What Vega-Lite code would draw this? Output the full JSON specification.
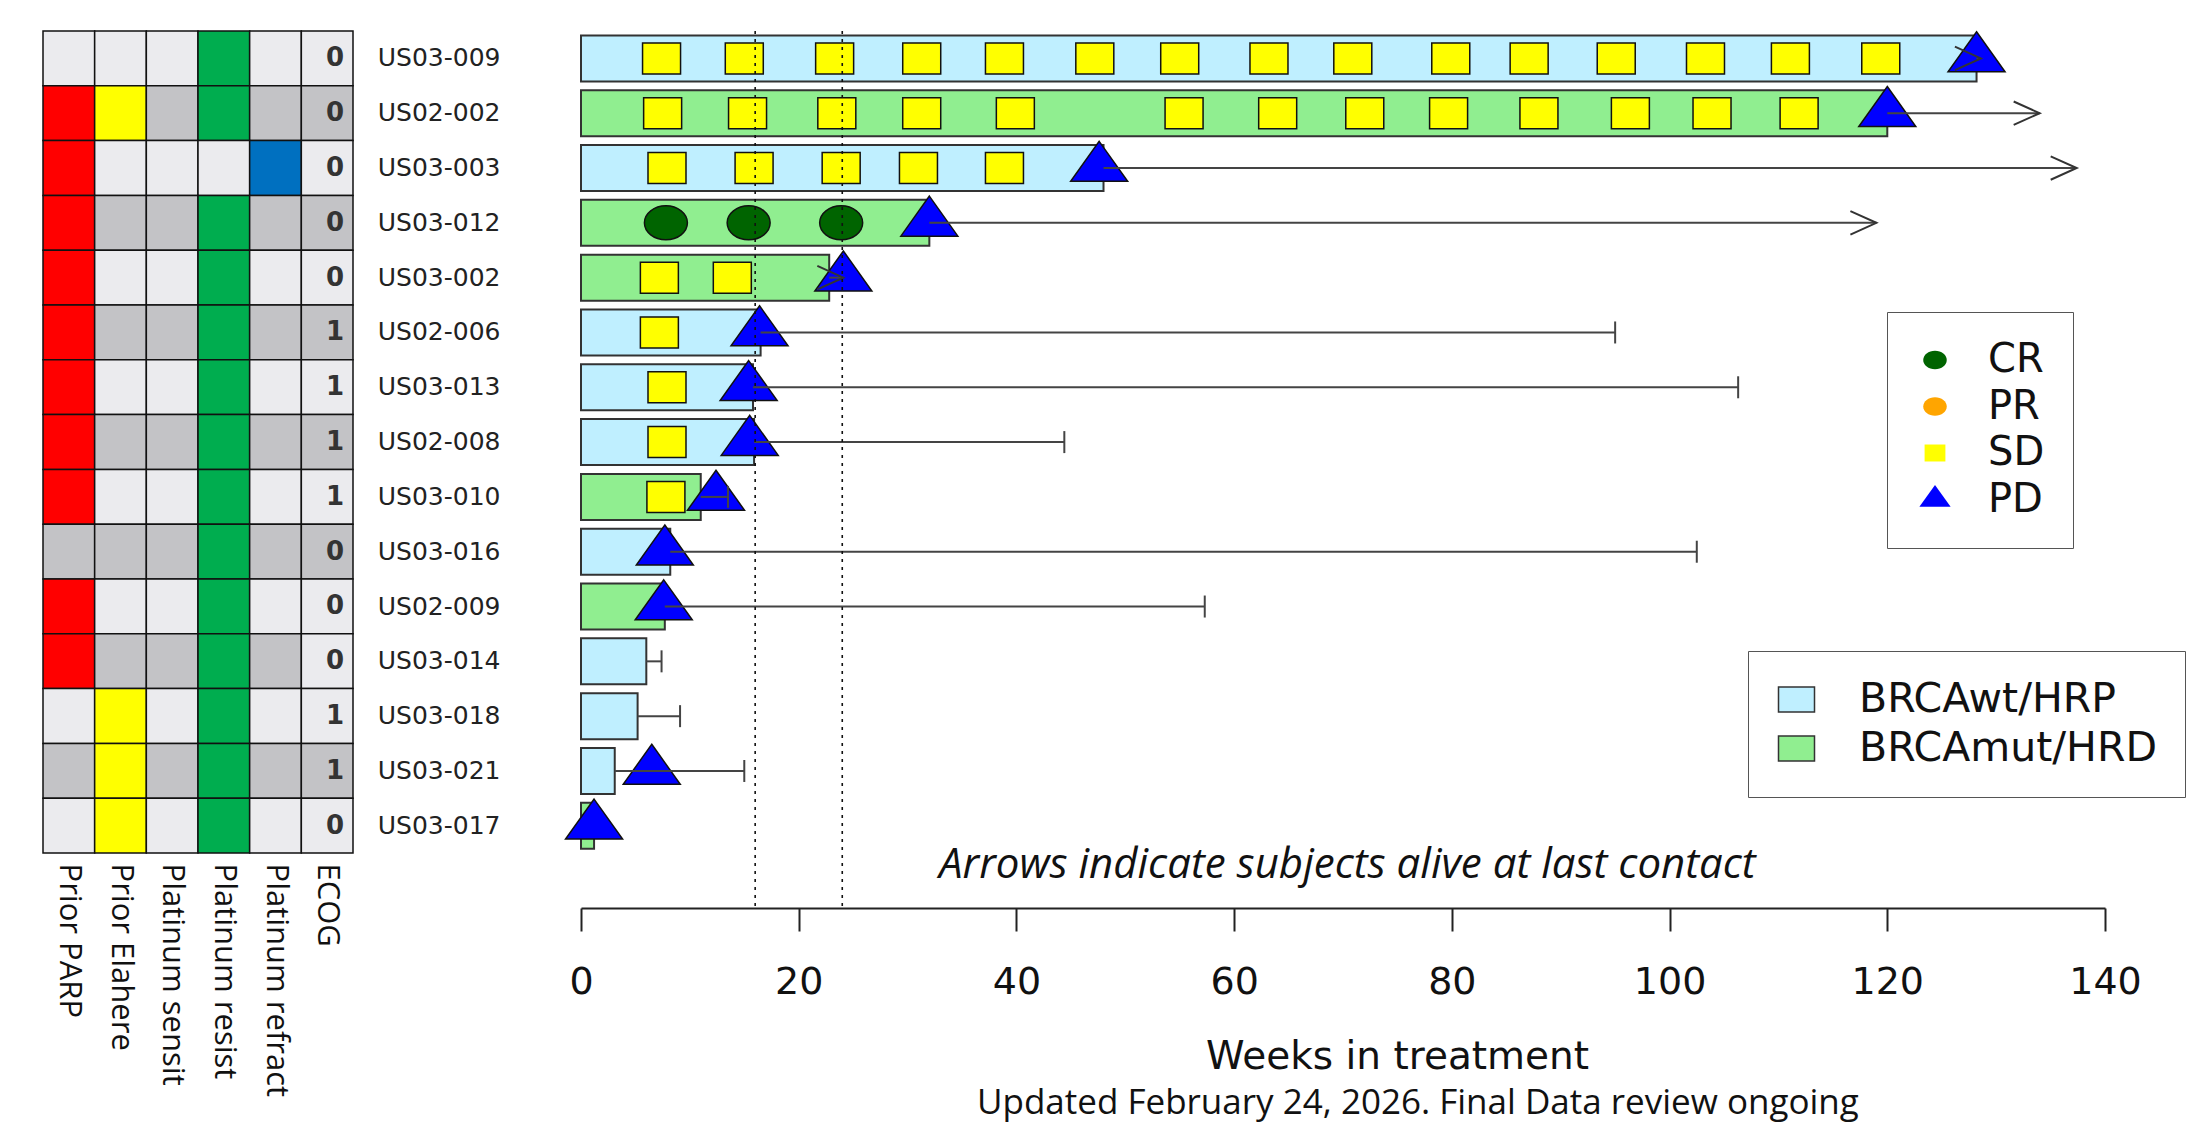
{
  "$schema": "https://vega.github.io/schema/vega-lite/v6.json",
  "background": "white",
  "padding": {"left": 42, "top": 28, "right": 0, "bottom": 6},
  "spacing": 23,
  "config": {
    "view": {"stroke": null},
    "font": "DejaVu Sans",
    "axis": {"grid": false}
  },
  "datasets": {
    "subjects": [
      {"id": "US03-009", "grp": "BRCAwt/HRP", "end": 128.2, "fu": 128.6, "fu_type": "arrow"},
      {"id": "US02-002", "grp": "BRCAmut/HRD", "end": 120, "fu": 134, "fu_type": "arrow"},
      {"id": "US03-003", "grp": "BRCAwt/HRP", "end": 48, "fu": 137.4, "fu_type": "arrow"},
      {"id": "US03-012", "grp": "BRCAmut/HRD", "end": 32, "fu": 119, "fu_type": "arrow"},
      {"id": "US03-002", "grp": "BRCAmut/HRD", "end": 22.8, "fu": 24.1, "fu_type": "arrow"},
      {"id": "US02-006", "grp": "BRCAwt/HRP", "end": 16.5, "fu": 95, "fu_type": "cap"},
      {"id": "US03-013", "grp": "BRCAwt/HRP", "end": 15.8, "fu": 106.3, "fu_type": "cap"},
      {"id": "US02-008", "grp": "BRCAwt/HRP", "end": 15.9, "fu": 44.4, "fu_type": "cap"},
      {"id": "US03-010", "grp": "BRCAmut/HRD", "end": 11, "fu": 13.5, "fu_type": "cap"},
      {"id": "US03-016", "grp": "BRCAwt/HRP", "end": 8.2, "fu": 102.5, "fu_type": "cap"},
      {"id": "US02-009", "grp": "BRCAmut/HRD", "end": 7.7, "fu": 57.3, "fu_type": "cap"},
      {"id": "US03-014", "grp": "BRCAwt/HRP", "end": 6, "fu": 7.4, "fu_type": "cap"},
      {"id": "US03-018", "grp": "BRCAwt/HRP", "end": 5.2, "fu": 9.1, "fu_type": "cap"},
      {"id": "US03-021", "grp": "BRCAwt/HRP", "end": 3.1, "fu": 15, "fu_type": "cap"},
      {"id": "US03-017", "grp": "BRCAmut/HRD", "end": 1.2, "fu": null, "fu_type": "none"}
    ],
    "resp": [
      {"id": "US03-009", "wk": 7.4, "resp": "SD"}, {"id": "US03-009", "wk": 15.0, "resp": "SD"}, {"id": "US03-009", "wk": 23.3, "resp": "SD"},
      {"id": "US03-009", "wk": 31.3, "resp": "SD"}, {"id": "US03-009", "wk": 38.9, "resp": "SD"}, {"id": "US03-009", "wk": 47.2, "resp": "SD"},
      {"id": "US03-009", "wk": 55.0, "resp": "SD"}, {"id": "US03-009", "wk": 63.2, "resp": "SD"}, {"id": "US03-009", "wk": 70.9, "resp": "SD"},
      {"id": "US03-009", "wk": 79.9, "resp": "SD"}, {"id": "US03-009", "wk": 87.1, "resp": "SD"}, {"id": "US03-009", "wk": 95.1, "resp": "SD"},
      {"id": "US03-009", "wk": 103.3, "resp": "SD"}, {"id": "US03-009", "wk": 111.1, "resp": "SD"}, {"id": "US03-009", "wk": 119.4, "resp": "SD"},
      {"id": "US03-009", "wk": 128.2, "resp": "PD"},
      {"id": "US02-002", "wk": 7.5, "resp": "SD"}, {"id": "US02-002", "wk": 15.3, "resp": "SD"}, {"id": "US02-002", "wk": 23.5, "resp": "SD"},
      {"id": "US02-002", "wk": 31.3, "resp": "SD"}, {"id": "US02-002", "wk": 39.9, "resp": "SD"}, {"id": "US02-002", "wk": 55.4, "resp": "SD"},
      {"id": "US02-002", "wk": 64.0, "resp": "SD"}, {"id": "US02-002", "wk": 72.0, "resp": "SD"}, {"id": "US02-002", "wk": 79.7, "resp": "SD"},
      {"id": "US02-002", "wk": 88.0, "resp": "SD"}, {"id": "US02-002", "wk": 96.4, "resp": "SD"}, {"id": "US02-002", "wk": 103.9, "resp": "SD"},
      {"id": "US02-002", "wk": 111.9, "resp": "SD"}, {"id": "US02-002", "wk": 120, "resp": "PD"},
      {"id": "US03-003", "wk": 7.9, "resp": "SD"}, {"id": "US03-003", "wk": 15.9, "resp": "SD"}, {"id": "US03-003", "wk": 23.9, "resp": "SD"},
      {"id": "US03-003", "wk": 31.0, "resp": "SD"}, {"id": "US03-003", "wk": 38.9, "resp": "SD"}, {"id": "US03-003", "wk": 47.6, "resp": "PD"},
      {"id": "US03-012", "wk": 7.8, "resp": "CR"}, {"id": "US03-012", "wk": 15.4, "resp": "CR"}, {"id": "US03-012", "wk": 23.9, "resp": "CR"},
      {"id": "US03-012", "wk": 32, "resp": "PD"},
      {"id": "US03-002", "wk": 7.2, "resp": "SD"}, {"id": "US03-002", "wk": 13.9, "resp": "SD"}, {"id": "US03-002", "wk": 24.1, "resp": "PD"},
      {"id": "US02-006", "wk": 7.2, "resp": "SD"}, {"id": "US02-006", "wk": 16.4, "resp": "PD"},
      {"id": "US03-013", "wk": 7.9, "resp": "SD"}, {"id": "US03-013", "wk": 15.4, "resp": "PD"},
      {"id": "US02-008", "wk": 7.9, "resp": "SD"}, {"id": "US02-008", "wk": 15.5, "resp": "PD"},
      {"id": "US03-010", "wk": 7.8, "resp": "SD"}, {"id": "US03-010", "wk": 12.4, "resp": "PD"},
      {"id": "US03-016", "wk": 7.7, "resp": "PD"},
      {"id": "US02-009", "wk": 7.6, "resp": "PD"},
      {"id": "US03-021", "wk": 6.5, "resp": "PD"},
      {"id": "US03-017", "wk": 1.2, "resp": "PD"}
    ],
    "heat": [
      {"id": "US03-009", "c": "Prior PARP", "f": "a"}, {"id": "US03-009", "c": "Prior Elahere", "f": "a"}, {"id": "US03-009", "c": "Platinum sensit", "f": "a"}, {"id": "US03-009", "c": "Platinum resist", "f": "resist"}, {"id": "US03-009", "c": "Platinum refract", "f": "a"}, {"id": "US03-009", "c": "ECOG", "f": "a", "e": 0},
      {"id": "US02-002", "c": "Prior PARP", "f": "PARP"}, {"id": "US02-002", "c": "Prior Elahere", "f": "Elahere"}, {"id": "US02-002", "c": "Platinum sensit", "f": "b"}, {"id": "US02-002", "c": "Platinum resist", "f": "resist"}, {"id": "US02-002", "c": "Platinum refract", "f": "b"}, {"id": "US02-002", "c": "ECOG", "f": "b", "e": 0},
      {"id": "US03-003", "c": "Prior PARP", "f": "PARP"}, {"id": "US03-003", "c": "Prior Elahere", "f": "a"}, {"id": "US03-003", "c": "Platinum sensit", "f": "a"}, {"id": "US03-003", "c": "Platinum resist", "f": "a"}, {"id": "US03-003", "c": "Platinum refract", "f": "refract"}, {"id": "US03-003", "c": "ECOG", "f": "a", "e": 0},
      {"id": "US03-012", "c": "Prior PARP", "f": "PARP"}, {"id": "US03-012", "c": "Prior Elahere", "f": "b"}, {"id": "US03-012", "c": "Platinum sensit", "f": "b"}, {"id": "US03-012", "c": "Platinum resist", "f": "resist"}, {"id": "US03-012", "c": "Platinum refract", "f": "b"}, {"id": "US03-012", "c": "ECOG", "f": "b", "e": 0},
      {"id": "US03-002", "c": "Prior PARP", "f": "PARP"}, {"id": "US03-002", "c": "Prior Elahere", "f": "a"}, {"id": "US03-002", "c": "Platinum sensit", "f": "a"}, {"id": "US03-002", "c": "Platinum resist", "f": "resist"}, {"id": "US03-002", "c": "Platinum refract", "f": "a"}, {"id": "US03-002", "c": "ECOG", "f": "a", "e": 0},
      {"id": "US02-006", "c": "Prior PARP", "f": "PARP"}, {"id": "US02-006", "c": "Prior Elahere", "f": "b"}, {"id": "US02-006", "c": "Platinum sensit", "f": "b"}, {"id": "US02-006", "c": "Platinum resist", "f": "resist"}, {"id": "US02-006", "c": "Platinum refract", "f": "b"}, {"id": "US02-006", "c": "ECOG", "f": "b", "e": 1},
      {"id": "US03-013", "c": "Prior PARP", "f": "PARP"}, {"id": "US03-013", "c": "Prior Elahere", "f": "a"}, {"id": "US03-013", "c": "Platinum sensit", "f": "a"}, {"id": "US03-013", "c": "Platinum resist", "f": "resist"}, {"id": "US03-013", "c": "Platinum refract", "f": "a"}, {"id": "US03-013", "c": "ECOG", "f": "a", "e": 1},
      {"id": "US02-008", "c": "Prior PARP", "f": "PARP"}, {"id": "US02-008", "c": "Prior Elahere", "f": "b"}, {"id": "US02-008", "c": "Platinum sensit", "f": "b"}, {"id": "US02-008", "c": "Platinum resist", "f": "resist"}, {"id": "US02-008", "c": "Platinum refract", "f": "b"}, {"id": "US02-008", "c": "ECOG", "f": "b", "e": 1},
      {"id": "US03-010", "c": "Prior PARP", "f": "PARP"}, {"id": "US03-010", "c": "Prior Elahere", "f": "a"}, {"id": "US03-010", "c": "Platinum sensit", "f": "a"}, {"id": "US03-010", "c": "Platinum resist", "f": "resist"}, {"id": "US03-010", "c": "Platinum refract", "f": "a"}, {"id": "US03-010", "c": "ECOG", "f": "a", "e": 1},
      {"id": "US03-016", "c": "Prior PARP", "f": "b"}, {"id": "US03-016", "c": "Prior Elahere", "f": "b"}, {"id": "US03-016", "c": "Platinum sensit", "f": "b"}, {"id": "US03-016", "c": "Platinum resist", "f": "resist"}, {"id": "US03-016", "c": "Platinum refract", "f": "b"}, {"id": "US03-016", "c": "ECOG", "f": "b", "e": 0},
      {"id": "US02-009", "c": "Prior PARP", "f": "PARP"}, {"id": "US02-009", "c": "Prior Elahere", "f": "a"}, {"id": "US02-009", "c": "Platinum sensit", "f": "a"}, {"id": "US02-009", "c": "Platinum resist", "f": "resist"}, {"id": "US02-009", "c": "Platinum refract", "f": "a"}, {"id": "US02-009", "c": "ECOG", "f": "a", "e": 0},
      {"id": "US03-014", "c": "Prior PARP", "f": "PARP"}, {"id": "US03-014", "c": "Prior Elahere", "f": "b"}, {"id": "US03-014", "c": "Platinum sensit", "f": "b"}, {"id": "US03-014", "c": "Platinum resist", "f": "resist"}, {"id": "US03-014", "c": "Platinum refract", "f": "b"}, {"id": "US03-014", "c": "ECOG", "f": "a", "e": 0},
      {"id": "US03-018", "c": "Prior PARP", "f": "a"}, {"id": "US03-018", "c": "Prior Elahere", "f": "Elahere"}, {"id": "US03-018", "c": "Platinum sensit", "f": "a"}, {"id": "US03-018", "c": "Platinum resist", "f": "resist"}, {"id": "US03-018", "c": "Platinum refract", "f": "a"}, {"id": "US03-018", "c": "ECOG", "f": "a", "e": 1},
      {"id": "US03-021", "c": "Prior PARP", "f": "b"}, {"id": "US03-021", "c": "Prior Elahere", "f": "Elahere"}, {"id": "US03-021", "c": "Platinum sensit", "f": "b"}, {"id": "US03-021", "c": "Platinum resist", "f": "resist"}, {"id": "US03-021", "c": "Platinum refract", "f": "b"}, {"id": "US03-021", "c": "ECOG", "f": "b", "e": 1},
      {"id": "US03-017", "c": "Prior PARP", "f": "a"}, {"id": "US03-017", "c": "Prior Elahere", "f": "Elahere"}, {"id": "US03-017", "c": "Platinum sensit", "f": "a"}, {"id": "US03-017", "c": "Platinum resist", "f": "resist"}, {"id": "US03-017", "c": "Platinum refract", "f": "a"}, {"id": "US03-017", "c": "ECOG", "f": "a", "e": 0}
    ],
    "cutoffs": [{"wk": 16}, {"wk": 24}]
  },
  "resolve": {
    "scale": {"x": "independent", "y": "independent", "color": "independent", "fill": "independent", "shape": "independent"},
    "legend": {"color": "independent", "fill": "independent", "shape": "independent"}
  },
  "hconcat": [
    {
      "width": 310,
      "height": 822,
      "data": {"name": "heat"},
      "encoding": {
        "x": {
          "field": "c", "type": "nominal",
          "scale": {"domain": ["Prior PARP", "Prior Elahere", "Platinum sensit", "Platinum resist", "Platinum refract", "ECOG"], "paddingInner": 0, "paddingOuter": 0},
          "axis": {"title": null, "orient": "bottom", "labelAngle": 90, "labelAlign": "left", "labelBaseline": "middle", "labelPadding": 10, "ticks": false, "tickSize": 0, "domain": false, "labelFont": "Open Sans", "labelFontSize": 31, "labelColor": "#111", "labelLimit": 400}
        },
        "y": {
          "field": "id", "type": "nominal",
          "scale": {"domain": ["US03-009", "US02-002", "US03-003", "US03-012", "US03-002", "US02-006", "US03-013", "US02-008", "US03-010", "US03-016", "US02-009", "US03-014", "US03-018", "US03-021", "US03-017"], "paddingInner": 0, "paddingOuter": 0},
          "axis": null
        }
      },
      "layer": [
        {
          "mark": {"type": "rect", "stroke": "#111", "strokeWidth": 1.5},
          "encoding": {
            "color": {
              "field": "f", "type": "nominal",
              "scale": {"domain": ["a", "b", "PARP", "Elahere", "resist", "refract"], "range": ["#EBEBEE", "#C3C3C6", "#FF0000", "#FFFF00", "#00AD4F", "#0070C0"]},
              "legend": null
            }
          }
        },
        {
          "transform": [{"filter": "isValid(datum.e)"}],
          "mark": {"type": "text", "align": "right", "baseline": "middle", "dx": 17, "font": "DejaVu Sans", "fontSize": 26, "fontWeight": "bold", "color": "#333"},
          "encoding": {"text": {"field": "e", "type": "nominal"}}
        }
      ]
    },
    {
      "width": 1524,
      "height": 877,
      "title": {"text": "Updated February 24, 2026. Final Data review ongoing", "orient": "bottom", "anchor": "start", "frame": "group", "dx": 396, "offset": 38, "font": "Open Sans", "fontSize": 35, "fontWeight": "normal", "color": "#111", "baseline": "alphabetic"},
      "layer": [
        {
          "data": {"name": "subjects"},
          "mark": {"type": "bar", "stroke": "#333", "strokeWidth": 2, "height": {"band": 0.84}},
          "encoding": {
            "y": {
              "field": "id", "type": "nominal",
              "scale": {"domain": ["US03-009", "US02-002", "US03-003", "US03-012", "US03-002", "US02-006", "US03-013", "US02-008", "US03-010", "US03-016", "US02-009", "US03-014", "US03-018", "US03-021", "US03-017", "note"], "paddingInner": 0, "paddingOuter": 0},
              "axis": {"title": null, "orient": "left", "ticks": false, "tickSize": 0, "domain": false, "labelAlign": "left", "labelBaseline": "middle", "labelPadding": 203.7, "labelFont": "DejaVu Sans", "labelFontSize": 25, "labelColor": "#222", "labelLimit": 300, "maxExtent": 300, "minExtent": 0, "labelExpr": "datum.value == 'note' ? '' : datum.value"}
            },
            "x": {
              "field": "end", "type": "quantitative", "stack": null,
              "scale": {"domain": [0, 140], "nice": false, "zero": true},
              "axis": {"title": "Weeks in treatment", "values": [0, 20, 40, 60, 80, 100, 120, 140], "tickSize": 23, "tickColor": "#222", "tickWidth": 2, "domainColor": "#222", "domainWidth": 2, "labelFont": "DejaVu Sans", "labelFontSize": 38, "labelColor": "#111", "labelPadding": 62, "labelBaseline": "alphabetic", "labelFlush": false, "labelOverlap": false, "grid": false, "titleFont": "DejaVu Sans", "titleFontSize": 39, "titleFontWeight": "normal", "titleColor": "#111", "titleBaseline": "alphabetic", "titleX": 816, "titleY": 160, "titleAlign": "center", "maxExtent": 400}
            },
            "color": {
              "field": "grp", "type": "nominal",
              "scale": {"domain": ["BRCAwt/HRP", "BRCAmut/HRD"], "range": ["#BFEFFF", "#90EE90"]},
              "legend": {"title": null, "orient": "none", "legendX": 1167, "legendY": 620, "symbolType": "M-1,-0.7H1V0.7H-1Z", "symbolSize": 1296, "symbolStrokeColor": "#333", "symbolStrokeWidth": 1.5, "labelFont": "DejaVu Sans", "labelFontSize": 41, "labelColor": "#111", "labelOffset": 42, "labelLimit": 500, "rowPadding": 7, "padding": 28, "strokeColor": "#555", "fillColor": "white"}
            }
          }
        },
        {
          "data": {"name": "resp"},
          "mark": {"type": "point", "filled": true, "opacity": 1, "size": 1600, "stroke": "#111", "strokeWidth": 1.5},
          "encoding": {
            "x": {"field": "wk", "type": "quantitative"},
            "y": {"field": "id", "type": "nominal"},
            "fill": {
              "field": "resp", "type": "nominal",
              "scale": {"domain": ["CR", "PR", "SD", "PD"], "range": ["#006400", "#FFA500", "#FFFF00", "#0000FF"]},
              "legend": {"title": null, "orient": "none", "legendX": 1306, "legendY": 281, "symbolSize": 480, "symbolStrokeColor": "#111", "symbolStrokeWidth": 1.2, "labelFont": "DejaVu Sans", "labelFontSize": 40, "labelColor": "#111", "labelOffset": 33, "rowPadding": 6.5, "padding": 28, "strokeColor": "#555", "fillColor": "white"}
            },
            "shape": {
              "field": "resp", "type": "nominal",
              "scale": {"domain": ["CR", "PR", "SD", "PD"], "range": ["M-1.075,0A1.075,0.85,0,1,0,1.075,0A1.075,0.85,0,1,0,-1.075,0Z", "M-1.075,0A1.075,0.85,0,1,0,1.075,0A1.075,0.85,0,1,0,-1.075,0Z", "M-0.95,-0.775H0.95V0.775H-0.95Z", "M0,-1.335L1.425,0.665L-1.425,0.665Z"]},
              "legend": {"title": null, "orient": "none", "legendX": 1306, "legendY": 281, "symbolSize": 480, "symbolStrokeColor": "#111", "symbolStrokeWidth": 1.2, "labelFont": "DejaVu Sans", "labelFontSize": 40, "labelColor": "#111", "labelOffset": 33, "rowPadding": 6.5, "padding": 28, "strokeColor": "#555", "fillColor": "white"}
            }
          }
        },
        {
          "data": {"name": "subjects"},
          "transform": [{"filter": "isValid(datum.fu)"}],
          "mark": {"type": "rule", "color": "#444", "strokeWidth": 2},
          "encoding": {
            "x": {"field": "end", "type": "quantitative"},
            "x2": {"field": "fu"},
            "y": {"field": "id", "type": "nominal"}
          }
        },
        {
          "data": {"name": "subjects"},
          "transform": [{"filter": "datum.fu_type == 'arrow'"}],
          "mark": {"type": "point", "shape": "M-1,-0.45L0,0L-1,0.45", "filled": false, "opacity": 1, "size": 2704, "stroke": "#333", "strokeWidth": 2},
          "encoding": {
            "x": {"field": "fu", "type": "quantitative"},
            "y": {"field": "id", "type": "nominal"}
          }
        },
        {
          "data": {"name": "subjects"},
          "transform": [{"filter": "datum.fu_type == 'cap'"}],
          "mark": {"type": "point", "shape": "M0,-1L0,1", "filled": false, "opacity": 1, "size": 484, "stroke": "#444", "strokeWidth": 2},
          "encoding": {
            "x": {"field": "fu", "type": "quantitative"},
            "y": {"field": "id", "type": "nominal"}
          }
        },
        {
          "data": {"name": "cutoffs"},
          "mark": {"type": "rule", "color": "#111", "strokeWidth": 1.6, "strokeDash": [3, 5]},
          "encoding": {
            "x": {"field": "wk", "type": "quantitative"}
          }
        },
        {
          "data": {"values": [{}]},
          "mark": {"type": "text", "text": "Arrows indicate subjects alive at last contact", "font": "Open Sans", "fontStyle": "italic", "fontSize": 42, "align": "center", "baseline": "middle", "dy": -16, "color": "#111"},
          "encoding": {
            "x": {"datum": 70.4, "type": "quantitative"},
            "y": {"datum": "note", "type": "nominal"}
          }
        }
      ]
    }
  ]
}
